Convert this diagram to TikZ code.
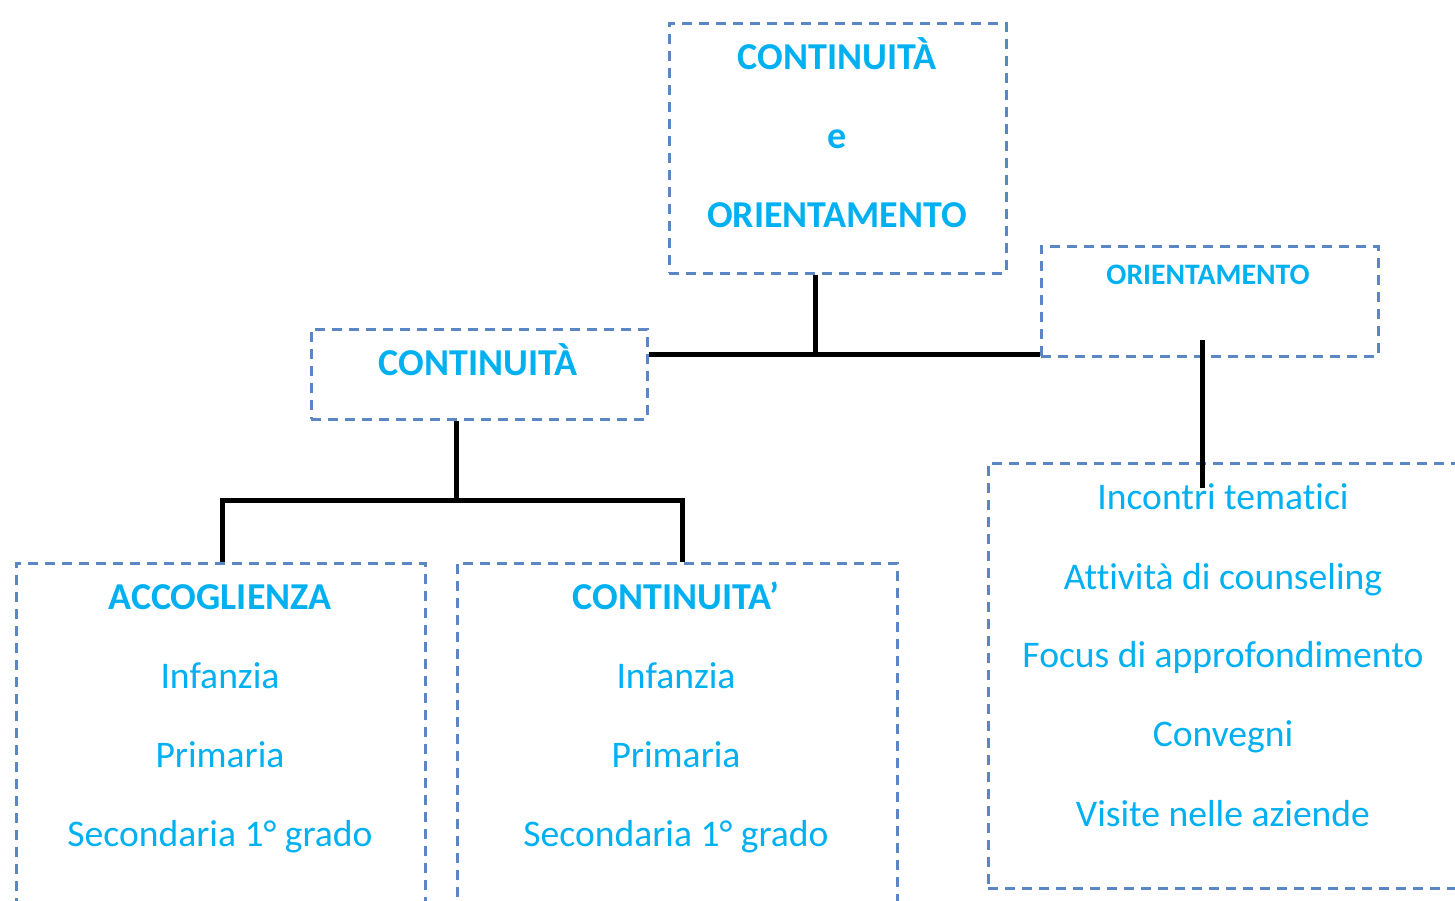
\documentclass[tikz,border=0pt]{standalone}
\usepackage{fontspec}
\setmainfont{Carlito}[Ligatures=NoCommon]
\definecolor{txtblue}{HTML}{00B0F0}
\definecolor{boxblue}{HTML}{5A86C4}
\begin{document}
\begin{tikzpicture}[x=1pt,y=-1pt,
  dbox/.style={draw=boxblue,line width=2.6pt,dash pattern=on 10pt off 7pt,inner sep=0pt,anchor=north west},
  ttl/.style={text=txtblue,font=\fontsize{38}{44}\selectfont\bfseries,inner sep=0pt,anchor=base},
  ttlsmall/.style={text=txtblue,font=\fontsize{29.7}{34}\selectfont\bfseries,inner sep=0pt,anchor=base},
  body/.style={text=txtblue,font=\fontsize{37.6}{44}\selectfont,inner sep=0pt,anchor=base},
  link/.style={line width=5pt,black}]
\useasboundingbox (0,0) rectangle (1455,900);
\clip (0,0) rectangle (1455,900);
% boxes
\node[dbox,minimum width=337pt,minimum height=250pt] (top) at (668,22) {};
\node[dbox,minimum width=337pt,minimum height=110pt] (orient) at (1040,245) {};
\node[dbox,minimum width=336pt,minimum height=90pt] (cont) at (310,328) {};
\node[dbox,minimum width=409pt,minimum height=360pt] (acc) at (15,562) {};
\node[dbox,minimum width=440pt,minimum height=360pt] (cont2) at (456,562) {};
\node[dbox,minimum width=500pt,minimum height=425pt] (orlist) at (987,462) {};
% texts (base anchors)
\node[ttl] (t1) at (837,69) {CONTINUITÀ};
\node[ttl] (t2) at (837,148) {e};
\node[ttl] (t3) at (837,227) {ORIENTAMENTO};
\node[ttlsmall] (o1) at (1208,284) {ORIENTAMENTO};
\node[ttl] (c1) at (478,375) {CONTINUITÀ};
\node[ttl] (a1) at (220,609) {ACCOGLIENZA};
\node[body] (a2) at (220,688) {Infanzia};
\node[body] (a3) at (220,767) {Primaria};
\node[body] (a4) at (220,846) {Secondaria 1° grado};
\node[ttl] (b1) at (676,609) {CONTINUITA’};
\node[body] (b2) at (676,688) {Infanzia};
\node[body] (b3) at (676,767) {Primaria};
\node[body] (b4) at (676,846) {Secondaria 1° grado};
\node[body] (r1) at (1223,509) {Incontri tematici};
\node[body] (r2) at (1223,589) {Attività di counseling};
\node[body] (r3) at (1223,667) {Focus di approfondimento};
\node[body] (r4) at (1223,746) {Convegni};
\node[body] (r5) at (1223,826) {Visite nelle aziende};
% connectors
\coordinate (j1) at (815,354);
\coordinate (j2) at (456,500);
\coordinate (ov) at (1202,340);
\coordinate (ovend) at (1202,488);
\draw[link] (top.south -| j1) -- (j1);
\draw[link] (cont.east |- j1) -- (orient.west |- j1);
\draw[link] (ov) -- (ovend);
\draw[link] (cont.south -| j2) -- (j2);
\draw[link] (222,500) -- (682,500);
\draw[link] (222,497.5) -- (acc.north -| 222,0);
\draw[link] (682,497.5) -- (cont2.north -| 682,0);
\end{tikzpicture}
\end{document}
